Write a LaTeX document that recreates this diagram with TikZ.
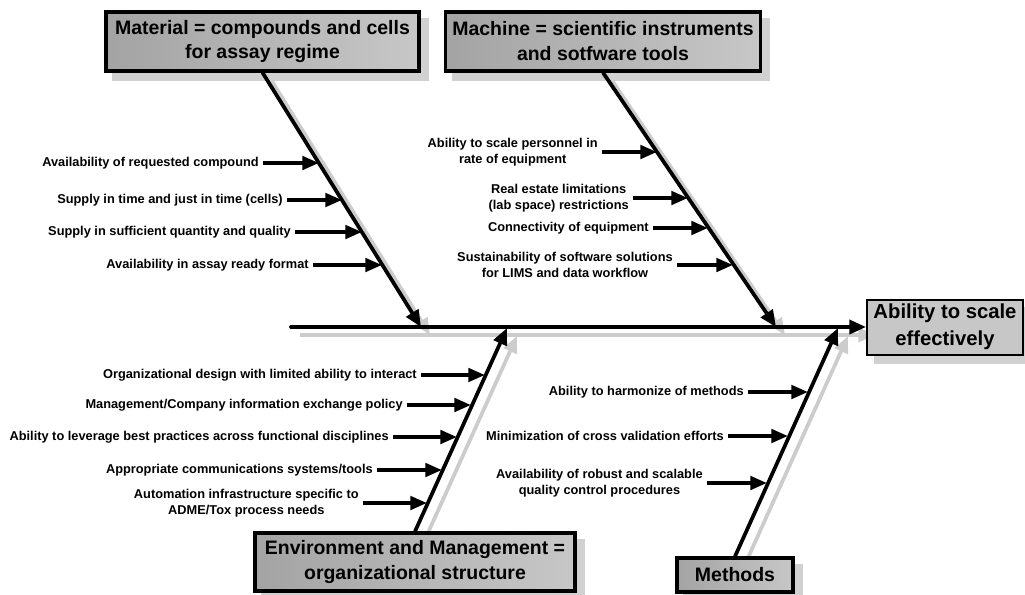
\documentclass[tikz,border=0pt]{standalone}
\usepackage{fontspec}
\setmainfont{Liberation Sans}
\usetikzlibrary{arrows.meta,backgrounds}
\begin{document}
\begin{tikzpicture}[x=0.75pt,y=-0.75pt,
  cause/.style={draw=black, line width=2.4pt, left color=black!36, right color=black!22,
    align=center, inner sep=0pt, font=\bfseries\fontsize{14.6}{18.7}\selectfont},
  effect/.style={draw=black, line width=1.5pt, fill=black!22, align=center, inner sep=0pt,
    font=\bfseries\fontsize{15.2}{20.5}\selectfont},
  lbl/.style={anchor=east, align=center, inner xsep=3pt, inner ysep=0pt,
    font=\bfseries\fontsize{9.6}{12}\selectfont},
  spine/.style={draw=black, line width=2.8pt, -{Triangle[length=12.5pt,width=10.5pt]}},
  spineshadow/.style={draw=black!20, line width=2.8pt, -{Triangle[length=12.5pt,width=10.5pt]}},
  br/.style={draw=black, line width=2.8pt, -{Triangle[length=12.5pt,width=10pt]}},
  boxshadow/.style={fill=black!18}
]
\useasboundingbox (0,0) rectangle (1025,594);

% category boxes and the effect
\node[cause, minimum width=234.75pt, minimum height=44.25pt] (mat) at (262.5,41.5)
  {Material = compounds and cells\\for assay regime};
\node[cause, minimum width=236pt, minimum height=44.25pt] (mac) at (603,41.5)
  {Machine = scientific instruments\\and sotfware tools};
\node[cause, minimum width=240pt, minimum height=43.5pt] (env) at (415,562)
  {Environment and Management =\\organizational structure};
\node[cause, minimum width=87pt, minimum height=25.5pt] (met) at (735,575) {Methods};
\node[effect, minimum width=117pt, minimum height=41.25pt] (eff) at (945,327)
  {Ability to scale\\effectively};

% points where the bones meet the backbone
\coordinate (tail) at (291,327);
\coordinate (m1) at (421,327);
\coordinate (m2) at (776,327);
\coordinate (e1) at (507,328);
\coordinate (e2) at (838,328);

% shadows
\begin{scope}[on background layer]
  \draw[spineshadow] ([shift={(9,8)}]tail) -- ([shift={(9,8)}]eff.west);
  \draw[spineshadow] ([shift={(9,8)}]mat.south) -- ([shift={(9,8)}]m1);
  \draw[spineshadow] ([shift={(9,8)}]mac.south) -- ([shift={(9,8)}]m2);
  \draw[spineshadow] ([shift={(10,8)}]env.north) -- ([shift={(10,8)}]e1);
  \draw[spineshadow] ([shift={(10,8)}]met.north) -- ([shift={(10,8)}]e2);
  \foreach \b in {mat,mac,env,met,eff}
    \fill[boxshadow] ([shift={(8,8)}]\b.north west) rectangle ([shift={(8,8)}]\b.south east);
\end{scope}

% backbone and bones
\draw[spine, line cap=round] (tail) -- (eff.west);
\draw[spine] (mat.south) -- (m1);
\draw[spine] (mac.south) -- (m2);
\draw[spine] (env.north) -- (e1);
\draw[spine] (met.north) -- (e2);

% Material
\coordinate (a1) at (319,163);
\coordinate (a2) at (342,200);
\coordinate (a3) at (362,232);
\coordinate (a4) at (382,265);
\node[lbl] (la1) at (263,163) {Availability of requested compound};
\node[lbl] (la2) at (287,200) {Supply in time and just in time (cells)};
\node[lbl] (la3) at (295,232) {Supply in sufficient quantity and quality};
\node[lbl] (la4) at (313,265) {Availability in assay ready format};
\foreach \i in {1,...,4} \draw[br] (la\i.east) -- (a\i);

% Machine
\coordinate (b1) at (657,152);
\coordinate (b2) at (688,198);
\coordinate (b3) at (708,228);
\coordinate (b4) at (733,265);
\node[lbl] (lb1) at (602,152) {Ability to scale personnel in\\rate of equipment};
\node[lbl] (lb2) at (633,198) {Real estate limitations\\(lab space) restrictions};
\node[lbl] (lb3) at (653,228) {Connectivity of equipment};
\node[lbl] (lb4) at (677,265) {Sustainability of software solutions\\for LIMS and data workflow};
\foreach \i in {1,...,4} \draw[br] (lb\i.east) -- (b\i);

% Environment and Management
\coordinate (c1) at (485,375);
\coordinate (c2) at (471,405);
\coordinate (c3) at (457,437);
\coordinate (c4) at (442,470);
\coordinate (c5) at (427,503);
\node[lbl] (lc1) at (421,375) {Organizational design with limited ability to interact};
\node[lbl] (lc2) at (407,405) {Management/Company information exchange policy};
\node[lbl] (lc3) at (393,437) {Ability to leverage best practices across functional disciplines};
\node[lbl] (lc4) at (377,470) {Appropriate communications systems/tools};
\node[lbl] (lc5) at (363,503) {Automation infrastructure specific to\\ADME/Tox process needs};
\foreach \i in {1,...,5} \draw[br] (lc\i.east) -- (c\i);

% Methods
\coordinate (d1) at (808,392);
\coordinate (d2) at (788,436);
\coordinate (d3) at (767,483);
\node[lbl] (ld1) at (748,392) {Ability to harmonize of methods};
\node[lbl] (ld2) at (728,436) {Minimization of cross validation efforts};
\node[lbl] (ld3) at (707,483) {Availability of robust and scalable\\quality control procedures};
\foreach \i in {1,...,3} \draw[br] (ld\i.east) -- (d\i);
\end{tikzpicture}
\end{document}
